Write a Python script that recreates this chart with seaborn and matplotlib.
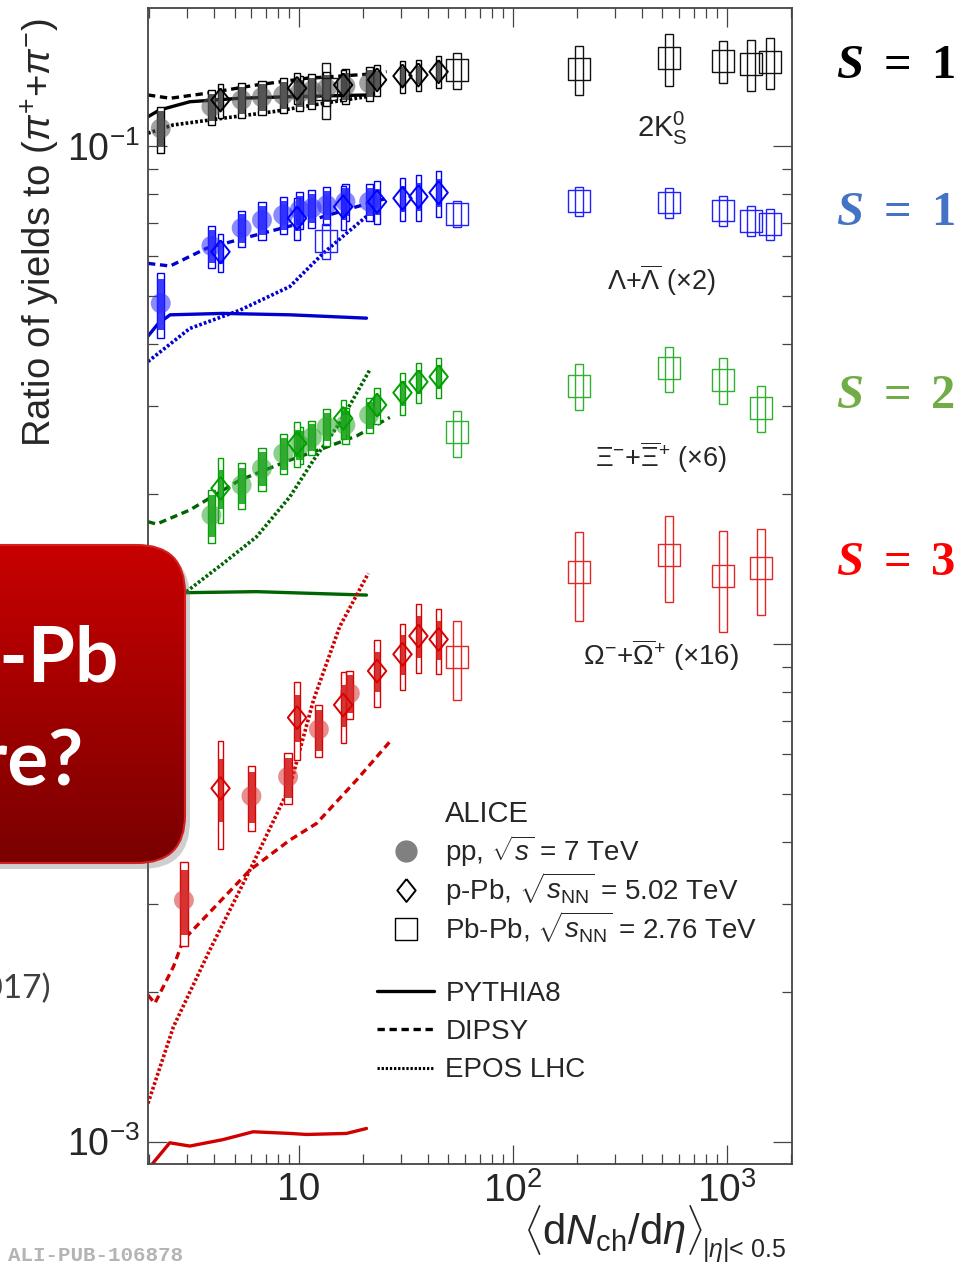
import numpy as np
import matplotlib
matplotlib.use("Agg")
import matplotlib.pyplot as plt
import seaborn as sns
from matplotlib.patches import Rectangle, FancyBboxPatch
from matplotlib.lines import Line2D
from matplotlib.colors import LinearSegmentedColormap
from matplotlib.ticker import LogLocator, NullFormatter

# ---------------- data (values as plotted, incl. scale factors) ----------------
pp_x = [2.26, 3.90, 5.40, 6.72, 8.45, 10.1, 11.5, 13.5, 16.5, 21.3]
pp_xi_x = [3.90, 5.40, 6.72, 8.45, 10.1, 11.5, 13.5, 16.5, 21.3]
pp_om_x = [2.9, 6.0, 8.9, 12.4, 17.3]
ppb_x = [4.3, 9.8, 16.1, 23.2, 30.5, 36.2, 45.0]
pbpb_x = [13.4, 55.0, 205, 537, 966, 1294, 1601]
pbpb_ms_x = [55.0, 205, 537, 966, 1447]

k0s_pp = [0.1085, 0.1199, 0.1237, 0.1253, 0.1266, 0.1280, 0.1292, 0.1306, 0.1320, 0.1337]
k0s_pp_sys = [0.106, 0.08, 0.08, 0.08, 0.08, 0.08, 0.08, 0.08, 0.08, 0.08]
k0s_ppb = [0.1237, 0.1306, 0.1326, 0.1358, 0.1382, 0.1389, 0.1410]
k0s_ppb_sys = [0.078, 0.071, 0.072, 0.072, 0.074, 0.072, 0.073]
k0s_pbpb = [0.1302, 0.1420, 0.1428, 0.1500, 0.1480, 0.1463, 0.1477]
k0s_pbpb_sys = [0.128, 0.082, 0.112, 0.12, 0.097, 0.117, 0.117]

lam_pp = [0.0483, 0.0630, 0.0684, 0.0710, 0.0727, 0.0744, 0.0750, 0.0761, 0.0773, 0.0773]
lam_pp_sys = [0.15, 0.098, 0.084, 0.088, 0.086, 0.086, 0.086, 0.088, 0.084, 0.084]
lam_ppb = [0.0613, 0.0716, 0.0755, 0.0773, 0.0785, 0.0791, 0.0806]
lam_ppb_sys = [0.088, 0.097, 0.10, 0.10, 0.10, 0.105, 0.105]
lam_pbpb = [0.0645, 0.0730, 0.0777, 0.0770, 0.0742, 0.0708, 0.0697]
lam_pbpb_sys = [0.08, 0.06, 0.067, 0.07, 0.07, 0.07, 0.07]

xi_pp = [0.01814, 0.02084, 0.02252, 0.02413, 0.02508, 0.02600, 0.02730, 0.02752, 0.02882]
xi_pp_sys = [0.123, 0.106, 0.101, 0.093, 0.085, 0.08, 0.084, 0.084, 0.08]
xi_ppb = [0.02053, 0.02528, 0.02838, 0.03018, 0.03194, 0.03360, 0.03440]
xi_ppb_sys = [0.149, 0.102, 0.09, 0.082, 0.097, 0.092, 0.092]
xi_pbpb = [0.02658, 0.03298, 0.03576, 0.03388, 0.02983]
xi_pbpb_sys = [0.106, 0.106, 0.102, 0.106, 0.106]

om_pp = [0.003056, 0.004945, 0.005408, 0.006733, 0.007954]
om_pp_sys = [0.192, 0.149, 0.118, 0.12, 0.111]
om_ppb = [0.005126, 0.00711, 0.00754, 0.00882, 0.00953, 0.01037, 0.01021]
om_ppb_sys = [0.243, 0.18, 0.162, 0.152, 0.152, 0.158, 0.149]
om_pbpb = [0.00942, 0.01397, 0.01510, 0.01370, 0.01420]
om_pbpb_sys = [0.18, 0.203, 0.198, 0.23, 0.196]

# model curves (pp)
k0s_pythia_x = [1.97, 2.23, 3.09, 5.30, 9.07, 20.8]
k0s_pythia = [0.1145, 0.1181, 0.1227, 0.1247, 0.1256, 0.1266]
k0s_dipsy_x = [1.97, 2.5, 3.7, 6.34, 10.9, 22.3, 25.7]
k0s_dipsy = [0.1266, 0.1247, 0.1276, 0.1326, 0.1368, 0.1396, 0.1411]
k0s_epos_x = [1.97, 2.58, 4.42, 7.58, 13.0, 20.7]
k0s_epos = [0.1061, 0.1102, 0.1137, 0.1172, 0.1218, 0.1256]

lam_pythia_x = [1.97, 2.2, 2.5, 4.4, 9.1, 20.7]
lam_pythia = [0.0415, 0.0440, 0.0458, 0.0461, 0.0458, 0.0451]
lam_dipsy_x = [1.97, 2.5, 3.7, 6.34, 10.9, 18.6, 25.7]
lam_dipsy = [0.0581, 0.0574, 0.0623, 0.0663, 0.0705, 0.0755, 0.0785]
lam_epos_x = [1.97, 3.09, 5.30, 9.07, 13.0, 16.7, 21.5]
lam_epos = [0.0369, 0.0430, 0.0468, 0.0522, 0.0609, 0.0668, 0.0732]

xi_pythia_x = [2.0, 2.98, 6.34, 20.7]
xi_pythia = [0.0126, 0.01267, 0.01273, 0.01253]
xi_dipsy_x = [1.97, 2.16, 3.09, 5.30, 9.07, 13.0, 18.6, 26.6]
xi_dipsy = [0.01759, 0.0174, 0.01857, 0.02133, 0.02339, 0.0247, 0.02615, 0.0285]
xi_epos_x = [2.98, 4.43, 6.34, 9.07, 11.7, 15.5, 21.5]
xi_epos = [0.01273, 0.01451, 0.01641, 0.01974, 0.02339, 0.02773, 0.03558]

om_pythia_x = [2.04, 2.49, 3.09, 4.43, 6.11, 9.07, 10.86, 16.7, 20.7]
om_pythia = [0.000897, 0.000995, 0.00098, 0.00101, 0.001047, 0.001039, 0.001034, 0.001039, 0.001063]
om_dipsy_x = [1.97, 2.12, 2.59, 2.88, 5.9, 9.07, 12.1, 18.6, 26.6]
om_dipsy = [0.00197, 0.001896, 0.002246, 0.002541, 0.003512, 0.004035, 0.004359, 0.005326, 0.006358]
om_epos_x = [1.97, 2.59, 3.83, 5.9, 9.07, 11.7, 15.5, 21.1]
om_epos = [0.001194, 0.001701, 0.002426, 0.003512, 0.005163, 0.00771, 0.01082, 0.01385]

species_labels = [r'2K$^{0}_{\rm S}$', r'$\Lambda$+$\overline{\Lambda}$ (×2)',
                  r'$\Xi^{-}$+$\overline{\Xi}^{+}$ (×6)', r'$\Omega^{-}$+$\overline{\Omega}^{+}$ (×16)']
strangeness = ['1', '1', '2', '3']

# ---------------- style ----------------
sns.set_style("ticks")
plt.rcParams['font.family'] = ['Liberation Sans', 'DejaVu Sans']
plt.rcParams['mathtext.fontset'] = 'custom'
plt.rcParams['mathtext.rm'] = 'Liberation Sans'
plt.rcParams['mathtext.it'] = 'Liberation Sans:italic'
plt.rcParams['mathtext.bf'] = 'Liberation Sans:bold'

W, H = 971, 1266
fig = plt.figure(figsize=(W / 100, H / 100), dpi=100)
fig.patch.set_facecolor('white')
ax_l, ax_r, ax_t, ax_b = 148, 792, 8, 1164
ax = fig.add_axes([ax_l / W, 1 - ax_b / H, (ax_r - ax_l) / W, (ax_b - ax_t) / H])
ax.set_xscale('log')
ax.set_yscale('log')
XLIM = (1.97, 2020)
YLIM = (9.02e-4, 0.1893)
ax.set_xlim(*XLIM)
ax.set_ylim(*YLIM)
dec_per_px = np.log10(XLIM[1] / XLIM[0]) / (ax_r - ax_l)

colors = {
    'k0s': dict(edge='#000000', fill='#3a3a3a', circ='#555555', line='#000000', pb='#111111'),
    'lam': dict(edge='#0000ff', fill='#1a1aff', circ='#2a2aff', line='#0000d0', pb='#2020ff'),
    'xi': dict(edge='#00a000', fill='#10a010', circ='#30a830', line='#006400', pb='#30b030'),
    'om': dict(edge='#d80000', fill='#d01010', circ='#d83030', line='#d00000', pb='#e02828'),
}

diamond = [(0, 1), (0.8, 0), (0, -1), (-0.8, 0), (0, 1)]
dash = (0, (2.2, 1.4))
dots = (0, (0.75, 0.6))


def boxes(x, y, sys, half_px, c, inner=None, white=True, lw=1.0, z=3):
    hw = 10 ** (half_px * dec_per_px)
    for xi, yi, s in zip(x, y, sys):
        x0, x1 = xi / hw, xi * hw
        if white:
            ax.add_patch(Rectangle((x0, yi * (1 - s)), x1 - x0, 2 * yi * s,
                                   facecolor='white', edgecolor=c['edge'], lw=lw, zorder=z))
        else:
            ax.add_patch(Rectangle((x0, yi * (1 - s)), x1 - x0, 2 * yi * s,
                                   facecolor='none', edgecolor=c['pb'], lw=lw, zorder=z))
        if inner is not None:
            si = s * inner
            ax.add_patch(Rectangle((x0, yi * (1 - si)), x1 - x0, 2 * yi * si,
                                   facecolor=c['fill'], edgecolor='none', alpha=0.85, zorder=z + 0.1))


datasets = [
    ('k0s', pp_x, k0s_pp, k0s_pp_sys, k0s_ppb, k0s_ppb_sys, pbpb_x, k0s_pbpb, k0s_pbpb_sys,
     [(k0s_pythia_x, k0s_pythia), (k0s_dipsy_x, k0s_dipsy), (k0s_epos_x, k0s_epos)]),
    ('lam', pp_x, lam_pp, lam_pp_sys, lam_ppb, lam_ppb_sys, pbpb_x, lam_pbpb, lam_pbpb_sys,
     [(lam_pythia_x, lam_pythia), (lam_dipsy_x, lam_dipsy), (lam_epos_x, lam_epos)]),
    ('xi', pp_xi_x, xi_pp, xi_pp_sys, xi_ppb, xi_ppb_sys, pbpb_ms_x, xi_pbpb, xi_pbpb_sys,
     [(xi_pythia_x, xi_pythia), (xi_dipsy_x, xi_dipsy), (xi_epos_x, xi_epos)]),
    ('om', pp_om_x, om_pp, om_pp_sys, om_ppb, om_ppb_sys, pbpb_ms_x, om_pbpb, om_pbpb_sys,
     [(om_pythia_x, om_pythia), (om_dipsy_x, om_dipsy), (om_epos_x, om_epos)]),
]

for key, ppx, ppy, pps, ppby, ppbs, pbx, pby, pbs, models in datasets:
    c = colors[key]
    # models
    for (mx, my), ls, lw in zip(models, ['-', dash, dots], [2.4, 2.4, 2.6]):
        sns.lineplot(x=mx, y=my, ax=ax, color=c['line'], linestyle=ls, lw=lw,
                     estimator=None, sort=False, zorder=2)
    # pp
    boxes(ppx, ppy, pps, 3.6, c, inner=0.78)
    sns.scatterplot(x=ppx, y=ppy, ax=ax, marker='o', s=205, color=c['circ'], alpha=0.55,
                    edgecolor='none', linewidth=0, zorder=5)
    # p-Pb
    boxes(ppb_x, ppby, ppbs, 2.6, c, inner=0.6)
    sns.scatterplot(x=ppb_x, y=ppby, ax=ax, marker=diamond, s=275, facecolor='none',
                    edgecolor=c['edge'], linewidth=1.4, zorder=6)
    # Pb-Pb
    boxes(pbx, pby, pbs, 4.0, c, white=False, lw=1.0)
    sns.scatterplot(x=pbx, y=pby, ax=ax, marker='s', s=250, facecolor='none',
                    edgecolor=c['pb'], linewidth=1.0, zorder=6)

ax.set_xlim(*XLIM)
ax.set_ylim(*YLIM)

# ---------------- axes cosmetics ----------------
for sp in ax.spines.values():
    sp.set_visible(True)
    sp.set_linewidth(1.3)
    sp.set_color('#444444')
ax.set_xticks([10, 100, 1000])
ax.set_xticklabels(['10', r'10$^{2}$', r'10$^{3}$'])
ax.set_yticks([1e-3, 1e-2, 1e-1])
ax.set_yticklabels([r'10$^{-3}$', r'10$^{-2}$', r'10$^{-1}$'])
ax.xaxis.set_minor_locator(LogLocator(base=10, subs=np.arange(2, 10)))
ax.yaxis.set_minor_locator(LogLocator(base=10, subs=np.arange(2, 10)))
ax.xaxis.set_minor_formatter(NullFormatter())
ax.yaxis.set_minor_formatter(NullFormatter())
ax.tick_params(which='both', direction='in', top=True, right=True, color='#444444')
ax.tick_params(which='major', length=14, width=0.9, pad=6)
ax.tick_params(axis='x', which='major', labelsize=28)
ax.tick_params(axis='y', which='major', labelsize=27)
ax.tick_params(which='minor', length=7.5, width=0.9)

ax.set_ylabel(r'Ratio of yields to ($\pi^{+}$+$\pi^{-}$)', fontsize=27.5, ha='left', va='baseline')
ax.yaxis.set_label_coords((51 - ax_l) / (ax_r - ax_l), (ax_b - 447) / (ax_b - ax_t))
ax.set_xlabel(r'$\langle$d$N_{\rm ch}$/d$\eta\rangle$', fontsize=30, ha='right', va='top')
ax.xaxis.set_label_coords((703 - ax_l) / (ax_r - ax_l), (ax_b - 1203) / (ax_b - ax_t))

# ---------------- legends ----------------
gray = '#808080'
h1 = [Line2D([], [], ls='none', marker='o', ms=15, color=gray, mec=gray),
      Line2D([], [], ls='none', marker=diamond, ms=16.5, mfc='none', mec='black', mew=1.4),
      Line2D([], [], ls='none', marker='s', ms=15.8, mfc='none', mec='black', mew=1.0)]
l1 = [r'pp, $\sqrt{s}$ = 7 TeV', r'p-Pb, $\sqrt{s_{\rm NN}}$ = 5.02 TeV',
      r'Pb-Pb, $\sqrt{s_{\rm NN}}$ = 2.76 TeV']
leg1 = ax.legend(h1, l1, loc='upper left', bbox_to_anchor=(386.5 / W, 1 - 833 / H),
                 bbox_transform=fig.transFigure, frameon=False, fontsize=20,
                 handlelength=1.4, handletextpad=0.7, labelspacing=0.06,
                 borderpad=0, borderaxespad=0)
ax.add_artist(leg1)
h2 = [Line2D([], [], color='black', lw=2.4, ls='-'),
      Line2D([], [], color='black', lw=2.4, ls=dash),
      Line2D([], [], color='black', lw=2.2, ls=dots)]
leg2 = ax.legend(h2, ['PYTHIA8', 'DIPSY', 'EPOS LHC'], loc='upper left',
                 bbox_to_anchor=(376.7 / W, 1 - 980.7 / H), bbox_transform=fig.transFigure,
                 frameon=False, fontsize=20, handlelength=2.05, handletextpad=0.42,
                 labelspacing=0.446, borderpad=0, borderaxespad=0)

# ---------------- overlay (pixel coordinates) ----------------
ov = fig.add_axes([0, 0, 1, 1])
ov.patch.set_alpha(0)
ov.axis('off')

ov.text(702, 1257, r'$|\eta|$< 0.5', fontsize=18, ha='left', va='baseline')
ov.text(445, 821.5, 'ALICE', fontsize=21, ha='left', va='baseline')

lab_pos = [(637, 137, 'left', 21), (661, 290, 'center', 19.5), (661, 467, 'center', 19.5),
           (661, 665, 'center', 20)]
for txt, (px, py, ha, fs) in zip(species_labels, lab_pos):
    ov.text(px, py, txt, fontsize=fs, ha=ha, va='baseline')

s_cols = ['#000000', '#4472c4', '#70ad47', '#ff0000']
s_base = [78, 225, 408, 575]
for sv, col, yb in zip(strangeness, s_cols, s_base):
    ov.text(836, yb, 'S', fontsize=35, family='Liberation Serif', weight='bold',
            style='italic', color=col, ha='left', va='baseline')
    ov.text(897, yb, '=', fontsize=35, family='Liberation Serif', weight='bold',
            color=col, ha='center', va='baseline')
    ov.text(955, yb, sv, fontsize=35, family='Liberation Serif', weight='bold',
            color=col, ha='right', va='baseline')

# red call-out box on the left
shadow = FancyBboxPatch((-200 + 5, 545 + 6), 385, 318,
                        boxstyle='round,pad=0,rounding_size=48', facecolor='#777777',
                        edgecolor='none', alpha=0.35, zorder=1)
ov.add_patch(shadow)
box = FancyBboxPatch((-200, 545), 385, 318, boxstyle='round,pad=0,rounding_size=48',
                     facecolor='none', edgecolor='#d42020', lw=1.5, zorder=3)
ov.add_patch(box)
grad = np.linspace(0, 1, 256).reshape(-1, 1)
cmap = LinearSegmentedColormap.from_list('redgrad', ['#c80000', '#7a0000'])
im = ov.imshow(grad, extent=[-200, 185, 863, 545], cmap=cmap, aspect='auto', zorder=2,
               interpolation='bilinear')
im.set_clip_path(box)
ov.text(119, 682, 'p-Pb', fontsize=55, family='Lato', weight='bold', color='white',
        ha='right', va='baseline', zorder=4)
ov.text(84, 785, 'ure?', fontsize=55, family='Lato', weight='bold', color='white',
        ha='right', va='baseline', zorder=4)
ov.text(51, 998, '2017)', fontsize=24, family='Lato', color='#404040', ha='right', va='baseline')
ov.text(8, 1261, 'ALI-PUB-106878', fontsize=15, family='Liberation Mono', weight='bold',
        color='#b4b4b4', ha='left', va='baseline')

ov.set_xlim(0, W)
ov.set_ylim(H, 0)

fig.savefig('out.png', dpi=100)
